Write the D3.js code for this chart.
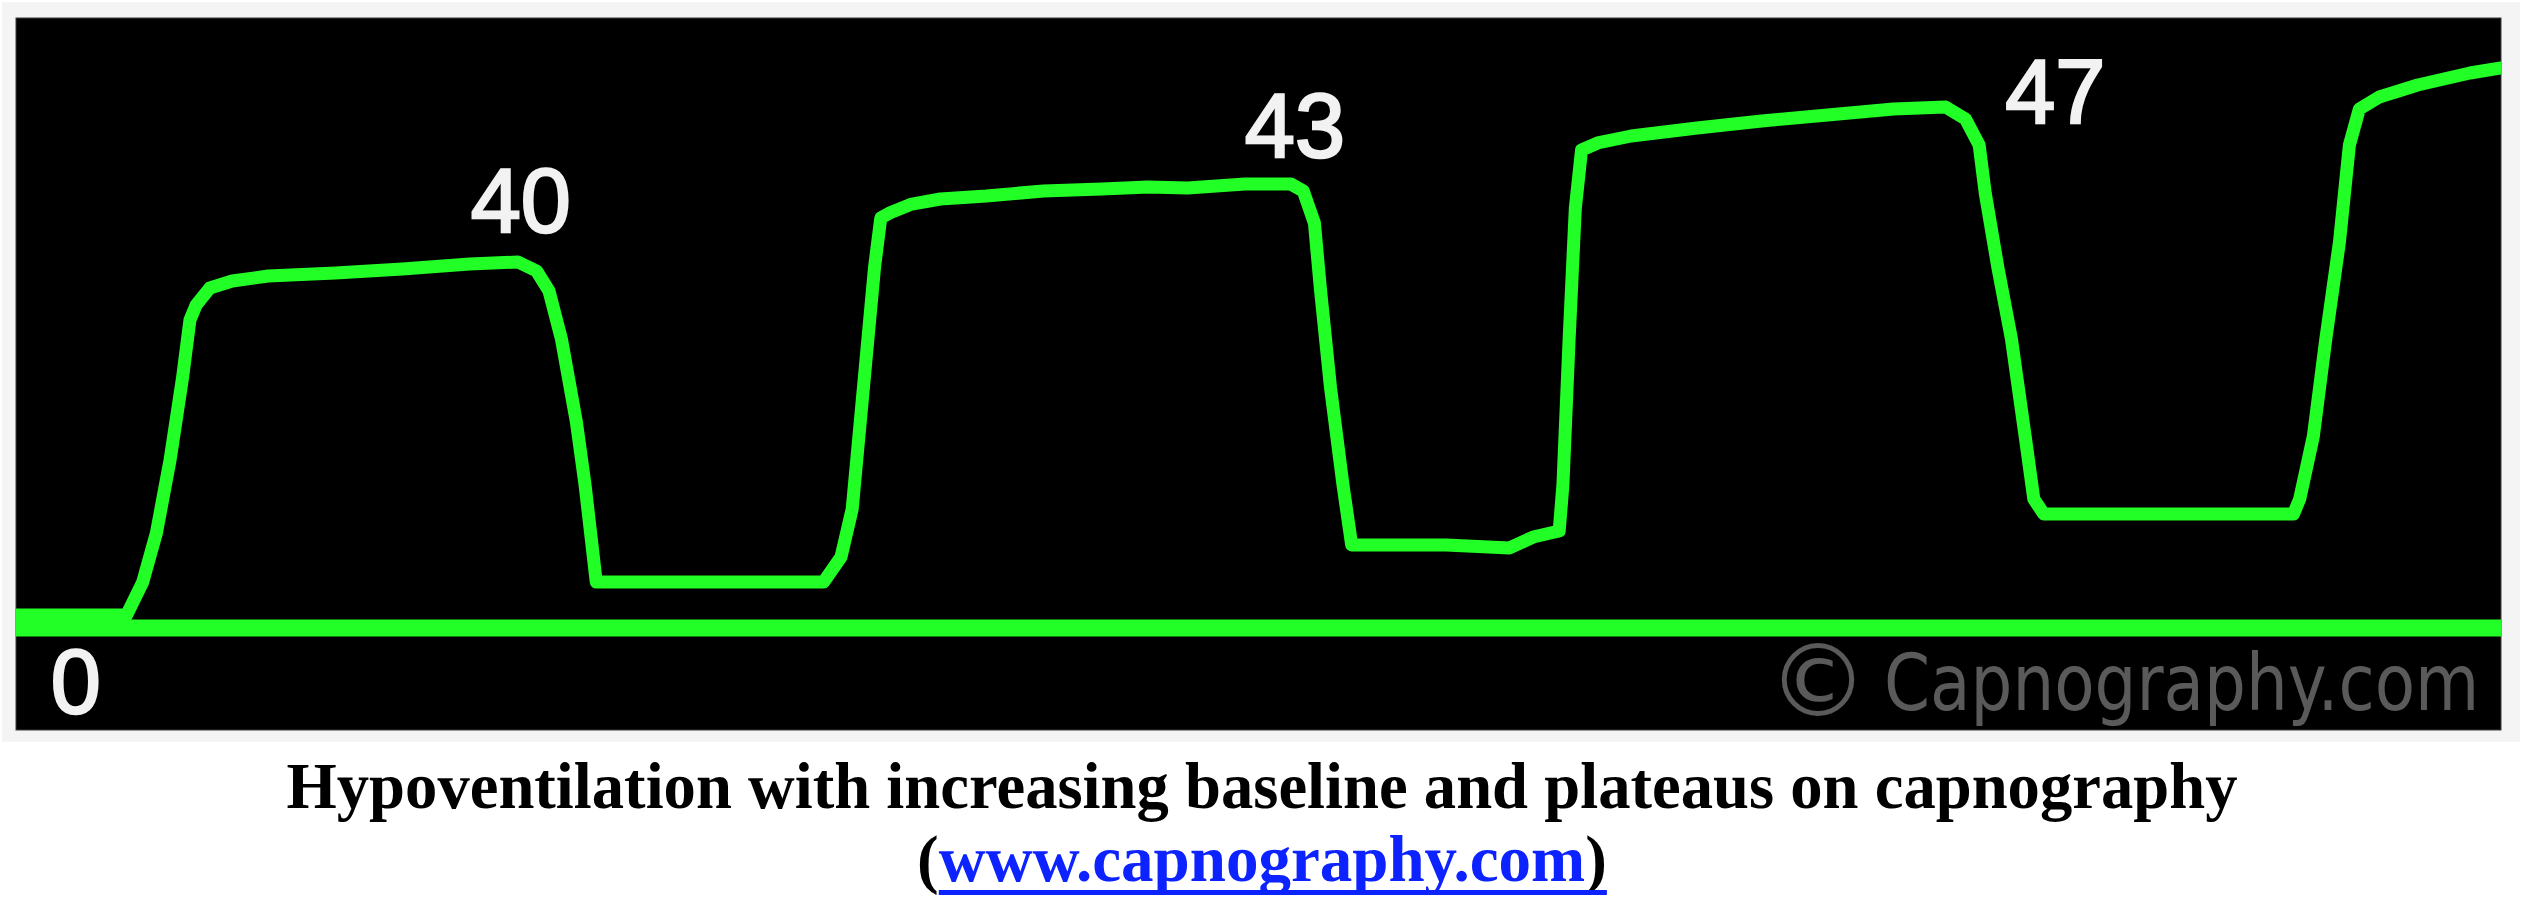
<!DOCTYPE html>
<html><head><meta charset="utf-8">
<script src="https://cdn.jsdelivr.net/npm/d3@7"></script>
<style>html,body{margin:0;padding:0;background:#fff;overflow:hidden} svg{display:block}</style>
</head><body>
<svg id="chart" width="2528" height="916"></svg>
<script>
// ---- data ----
const timeSec = [0,0.89,1.02,1.13,1.24,1.34,1.40,1.45,1.56,1.74,2.03,2.57,3.11,3.65,4.04,4.19,4.29,4.39,4.51,4.58,4.67,
  6.50,6.64,6.73,6.82,6.91,6.96,7.03,7.21,7.44,7.81,8.27,8.74,9.11,9.43,9.89,10.26,10.36,10.45,10.50,10.58,10.68,10.75,
  11.51,12.02,12.21,12.42,12.45,12.50,12.55,12.60,12.73,13.00,13.53,14.05,14.58,15.11,15.53,15.69,15.80,15.85,15.95,16.06,16.17,16.24,16.32,
  18.33,18.38,18.49,18.59,18.70,18.78,18.86,19.02,19.33,19.75,20.0];
const co2Level = [1.08,1.08,3.83,7.92,14.0,20.83,25.67,26.92,28.33,28.92,29.33,29.58,29.92,30.33,30.5,29.75,28.08,24.08,17.17,11.92,3.83,
  3.83,5.92,9.92,20.0,30.08,34.17,34.58,35.33,35.75,36.0,36.42,36.58,36.75,36.67,37.0,37.0,36.42,33.75,28.08,20.0,11.92,6.92,
  6.92,6.67,7.58,8.08,11.92,24.08,35.0,39.83,40.42,41.0,41.67,42.25,42.75,43.25,43.42,42.42,40.25,36.17,30.08,24.08,16.0,10.75,9.5,
  9.5,10.75,16.0,24.08,32.17,40.25,43.25,44.25,45.25,46.25,46.67];
const peakLabels = ["40", "43", "47"];
const peakLabelTime = [3.66, 9.89, 16.01];
const peakLabelLevel = [33.0, 39.25, 42.08];
const zeroLabel = "0";
const zeroLabelTime = 0.28;
const zeroLabelLevel = -7.08;
const timeDomain = [0, 20];
const levelDomain = [0, 50];
const titleLine1 = "Hypoventilation with increasing baseline and plateaus on capnography";
const linkText = "www.capnography.com";
const watermarkText = "Capnography.com";

// ---- drawing ----
const svg = d3.select("#chart");
const panel = {x0: 16, x1: 2501, y0: 18, y1: 730};
const x = d3.scaleLinear().domain(timeDomain).range([panel.x0, panel.x1]);
const y = d3.scaleLinear().domain(levelDomain).range([628, 28]);
const green = "#22ff26";

svg.append("rect").attr("x", 2).attr("y", 2).attr("width", 2518).attr("height", 740).attr("fill", "#f4f4f4");
svg.append("rect").attr("x", panel.x0).attr("y", panel.y0).attr("width", panel.x1 - panel.x0).attr("height", panel.y1 - panel.y0)
  .attr("fill", "#000").attr("stroke", "#3c3c3c").attr("stroke-width", 1);

svg.append("defs").append("clipPath").attr("id", "clip").append("rect")
  .attr("x", panel.x0).attr("y", panel.y0).attr("width", panel.x1 - panel.x0).attr("height", panel.y1 - panel.y0);

// watermark (narrow look: smaller font stretched vertically)
svg.append("text").attr("x", 1768).attr("y", 716).attr("font-family", "DejaVu Sans, sans-serif")
  .attr("font-size", 100).attr("fill", "#5a5a5a").text("©");
svg.append("g").attr("transform", "translate(1884,710) scale(1,1.18)")
  .append("text").attr("x", 0).attr("y", 0).attr("font-family", "DejaVu Sans, sans-serif")
  .attr("font-size", 66).attr("fill", "#5a5a5a").text(watermarkText);

const g = svg.append("g").attr("clip-path", "url(#clip)");

// zero baseline
const line = d3.line().x(d => x(d[0])).y(d => y(d[1]));
g.append("path").datum([[timeDomain[0], 0], [timeDomain[1], 0]]).attr("d", line)
  .attr("fill", "none").attr("stroke", green).attr("stroke-width", 17);

// capnogram trace
const pts = timeSec.map((t, i) => [t, co2Level[i]]);
g.append("path").datum(pts).attr("d", line)
  .attr("fill", "none").attr("stroke", green).attr("stroke-width", 13)
  .attr("stroke-linejoin", "round").attr("stroke-linecap", "round");

// labels
const labelFont = "Liberation Sans, Arial, Helvetica, sans-serif";
svg.selectAll("text.peak").data(peakLabels).join("text").attr("class", "peak")
  .attr("x", (d, i) => x(peakLabelTime[i])).attr("y", (d, i) => y(peakLabelLevel[i]))
  .attr("font-family", labelFont).attr("font-size", 90).attr("fill", "#f2f2f2")
  .attr("stroke", "#f2f2f2").attr("stroke-width", 2.5).text(d => d);
svg.append("text").attr("x", x(zeroLabelTime)).attr("y", y(zeroLabelLevel))
  .attr("font-family", labelFont).attr("font-size", 90).attr("fill", "#f2f2f2")
  .attr("stroke", "#f2f2f2").attr("stroke-width", 2.5).text(zeroLabel);

// caption
const serif = "Liberation Serif, Times New Roman, serif";
svg.append("text").attr("x", 1262).attr("y", 808).attr("text-anchor", "middle")
  .attr("font-family", serif).attr("font-weight", "bold").attr("font-size", 65).attr("fill", "#000")
  .attr("textLength", 1951).attr("lengthAdjust", "spacingAndGlyphs").text(titleLine1);

const l2 = svg.append("text").attr("x", 1262).attr("y", 881).attr("text-anchor", "middle")
  .attr("font-family", serif).attr("font-weight", "bold").attr("font-size", 65).attr("fill", "#000");
l2.append("tspan").text("(");
l2.append("tspan").attr("fill", "#0c22ff").text(linkText);
l2.append("tspan").text(")");
const bb = l2.node().getBBox();
const openW = l2.node().getSubStringLength(0, 1);
svg.append("rect").attr("x", bb.x + openW).attr("y", 890).attr("width", bb.width - openW).attr("height", 5).attr("fill", "#0c22ff");
</script>
</body></html>
